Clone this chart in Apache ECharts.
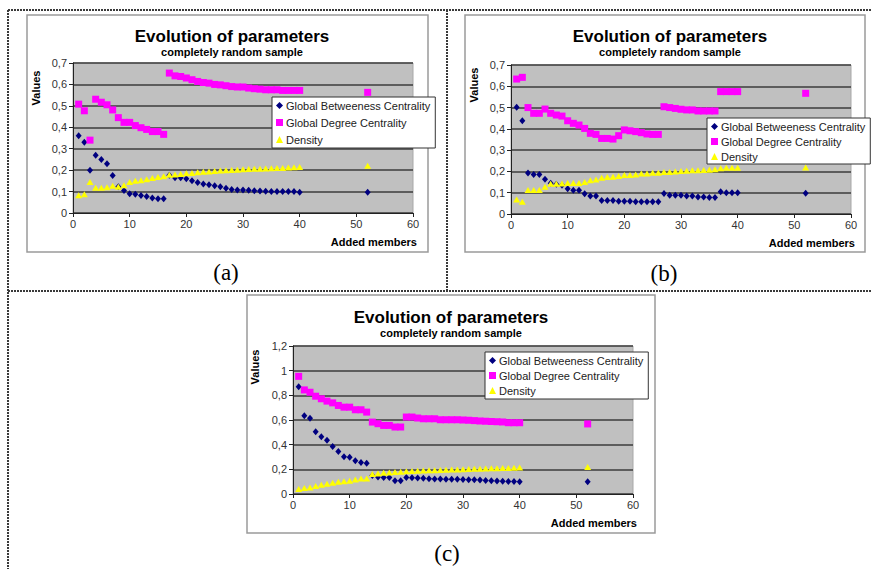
<!DOCTYPE html>
<html><head><meta charset="utf-8">
<script src="https://cdn.jsdelivr.net/npm/echarts@6/dist/echarts.min.js"></script>
<style>html,body{margin:0;padding:0;background:#fff}#c{width:874px;height:569px}</style>
</head><body><div id="c"></div>
<script>
// Added members (x values) shared by all three panels
const members = [1,2,3,4,5,6,7,8,9,10,11,12,13,14,15,16,17,18,19,20,21,22,23,24,25,26,27,28,29,30,31,32,33,34,35,36,37,38,39,40,52];
const seriesNames = ['Global Betweeness Centrality','Global Degree Centrality','Density'];
const titleText = 'Evolution of parameters';
const subtitleText = 'completely random sample';
const xTicks = {min:0, max:60, interval:10};
const yTicksAB = {min:0, max:0.7, interval:0.1};
const yTicksC = {min:0, max:1.2, interval:0.2};
const panelLabels = ['(a)','(b)','(c)'];

// Panel (a)
const betA = [0.36,0.33,0.20,0.27,0.25,0.23,0.175,0.122,0.105,0.09,0.087,0.082,0.077,0.07,0.066,0.066,
  0.176,0.165,0.165,0.16,0.15,0.142,0.135,0.132,0.127,0.122,0.115,0.11,0.107,0.107,0.106,0.104,0.103,0.102,0.1,0.1,0.1,0.1,0.1,0.097,0.097];
const degA = [0.508,0.477,0.34,0.531,0.517,0.505,0.481,0.445,0.423,0.423,0.408,0.398,0.39,0.38,0.38,0.367,
  0.653,0.64,0.637,0.63,0.622,0.614,0.609,0.606,0.6,0.598,0.594,0.59,0.588,0.588,0.583,0.58,0.578,0.575,0.575,0.575,0.572,0.572,0.572,0.572,0.563];
const denA = [0.083,0.087,0.145,0.118,0.118,0.12,0.127,0.123,0.13,0.145,0.15,0.153,0.158,0.163,0.168,0.172,
  0.178,0.18,0.182,0.185,0.187,0.19,0.192,0.194,0.196,0.198,0.2,0.201,0.202,0.204,0.205,0.206,0.207,0.208,0.209,0.21,0.21,0.212,0.213,0.215,0.22];

// Panel (b)
const betB = [0.501,0.438,0.193,0.185,0.185,0.163,0.145,0.14,0.135,0.119,0.112,0.112,0.095,0.084,0.084,0.063,0.063,0.063,0.06,0.06,0.06,0.058,0.058,0.058,0.058,0.058,
  0.096,0.088,0.088,0.088,0.084,0.084,0.08,0.08,0.077,0.077,0.105,0.1,0.1,0.1,0.097];
const degB = [0.634,0.642,0.5,0.473,0.473,0.493,0.473,0.465,0.46,0.438,0.426,0.418,0.402,0.379,0.374,0.355,0.355,0.352,0.368,0.395,0.391,0.387,0.382,0.376,0.374,0.374,
  0.504,0.5,0.496,0.492,0.489,0.489,0.484,0.484,0.484,0.484,0.575,0.575,0.575,0.575,0.567];
const denB = [0.068,0.058,0.113,0.113,0.113,0.128,0.142,0.142,0.143,0.146,0.146,0.146,0.15,0.159,0.162,0.17,0.174,0.175,0.178,0.183,0.183,0.186,0.19,0.19,0.194,0.194,
  0.197,0.197,0.2,0.202,0.203,0.205,0.206,0.207,0.208,0.21,0.215,0.217,0.217,0.217,0.218];

// Panel (c)
const betC = [0.87,0.635,0.615,0.505,0.465,0.435,0.385,0.345,0.302,0.298,0.27,0.255,0.25,
  0.15,0.138,0.134,0.133,0.108,0.108,
  0.133,0.132,0.13,0.128,0.124,0.122,0.122,0.12,0.12,0.12,0.118,0.116,0.115,0.113,0.11,0.108,0.105,0.103,0.102,0.102,0.1,0.1];
const degC = [0.954,0.844,0.825,0.793,0.772,0.753,0.739,0.718,0.704,0.704,0.683,0.683,0.664,
  0.583,0.57,0.556,0.556,0.543,0.543,
  0.624,0.624,0.616,0.61,0.61,0.61,0.602,0.602,0.602,0.602,0.6,0.598,0.595,0.592,0.59,0.588,0.586,0.584,0.578,0.578,0.578,0.568];
const denC = [0.04,0.048,0.052,0.065,0.074,0.083,0.092,0.1,0.104,0.107,0.117,0.125,0.126,
  0.162,0.167,0.172,0.175,0.178,0.18,
  0.185,0.186,0.188,0.19,0.192,0.193,0.195,0.196,0.198,0.199,0.2,0.202,0.204,0.205,0.207,0.208,0.209,0.21,0.211,0.212,0.215,0.218];

const FONT = 'Arial, "Liberation Sans", sans-serif';
const colors = ['#000080','#ff00ff','#ffff00'];
const symbols = ['diamond','rect','triangle'];
const symSizes = [[6,7],[7,7],[7,6]];

const zip = (vals) => members.map((m,i)=>[m, vals[i]]);
const fmt = v => { const r = Math.round(v*10)/10; return String(r).replace('.', ','); };

const panels = [
  {grid:{left:73, top:63, width:340, height:150}, y:yTicksAB, data:[betA,degA,denA],
   title:{x:227, y:23}, legend:{left:272, top:97, gap:4, pad:[2,5,2,4]}},
  {grid:{left:511, top:65, width:340, height:149}, y:yTicksAB, data:[betB,degB,denB],
   title:{x:665, y:23}, legend:{left:707, top:118, gap:2, pad:[2,5,1,4]}},
  {grid:{left:293, top:346, width:340, height:148}, y:yTicksC, data:[betC,degC,denC],
   title:{x:446, y:304}, legend:{left:485, top:352, gap:2, pad:[2,5,2,4]}}
];

const option = {
  animation:false,
  title: panels.map(p=>({
    text:titleText, subtext:subtitleText, left:p.title.x, top:p.title.y, textAlign:'center', itemGap:1,
    textStyle:{fontFamily:FONT, fontSize:17, fontWeight:'bold', color:'#000'},
    subtextStyle:{fontFamily:FONT, fontSize:11, fontWeight:'bold', color:'#000'}
  })),
  grid: panels.map(p=>Object.assign({show:true, backgroundColor:'#c0c0c0', borderColor:'#a8a8a8', borderWidth:1, containLabel:false, outerBoundsMode:'none'}, p.grid)),
  xAxis: panels.map((p,i)=>({
    type:'value', gridIndex:i, min:xTicks.min, max:xTicks.max, interval:xTicks.interval,
    axisLine:{show:true, onZero:false, lineStyle:{color:'#222', width:1}},
    axisTick:{show:true, length:4, inside:false, lineStyle:{color:'#222'}},
    axisLabel:{fontFamily:FONT, fontSize:11, color:'#333', margin:5},
    splitLine:{show:false}
  })),
  yAxis: panels.map((p,i)=>({
    type:'value', gridIndex:i, min:p.y.min, max:p.y.max, interval:p.y.interval,
    axisLine:{show:true, lineStyle:{color:'#222', width:1}},
    axisTick:{show:true, length:4, lineStyle:{color:'#222'}},
    axisLabel:{fontFamily:FONT, fontSize:11, color:'#333', margin:6, formatter:fmt},
    splitLine:{show:true, lineStyle:{color:'#3c3c3c', width:1.5}}
  })),
  legend: panels.map((p,i)=>({
    orient:'vertical', left:p.legend.left, top:p.legend.top, itemGap:p.legend.gap, padding:p.legend.pad,
    backgroundColor:'#fff', borderColor:'#333', borderWidth:1, borderRadius:0,
    itemWidth:7, itemHeight:7, selectedMode:false,
    textStyle:{fontFamily:FONT, fontSize:11, color:'#222', lineHeight:13, padding:[0,0,0,-2]},
    data: seriesNames.map((n,k)=>({name:n, icon:symbols[k]}))
  })),
  series: [],
  graphic: []
};

panels.forEach((p,i)=>{
  p.data.forEach((vals,k)=>{
    option.series.push({
      type:'scatter', name:seriesNames[k], xAxisIndex:i, yAxisIndex:i,
      symbol:symbols[k], symbolSize:symSizes[k],
      itemStyle:{color:colors[k], opacity:1},
      z: 2+k,
      data: zip(vals)
    });
  });
});

const G = option.graphic;
// dotted panel frames
const dot = {stroke:'#3a3a3a', lineWidth:2, lineDash:[2,1]};
[[8,10,872,10],[8,10,8,569],[447,10,447,291],[8,291,872,291]].forEach(s=>{
  G.push({type:'line', shape:{x1:s[0],y1:s[1],x2:s[2],y2:s[3]}, style:dot, z:-5, silent:true});
});
// chart boxes
[[27,15,401,237],[465,15,400,237],[247,295,408,238]].forEach(r=>{
  G.push({type:'rect', shape:{x:r[0],y:r[1],width:r[2],height:r[3]}, style:{fill:'#fff', stroke:'#9a9a9a', lineWidth:1.5}, z:-10, silent:true});
});
// axis titles
const yTitle = [[36,88],[474,85],[255,367]];
const xTitle = [[417,242],[855,243],[637,523]];
yTitle.forEach(t=>G.push({type:'text', x:t[0], y:t[1], rotation:Math.PI/2,
  style:{text:'Values', fontFamily:FONT, fontSize:11, fontWeight:'bold', fill:'#000', align:'center', verticalAlign:'middle'}}));
xTitle.forEach(t=>G.push({type:'text', x:t[0], y:t[1],
  style:{text:'Added members', fontFamily:FONT, fontSize:11, fontWeight:'bold', fill:'#000', align:'right', verticalAlign:'middle'}}));
// panel labels
[[226,272],[664,273],[447,553]].forEach((t,i)=>G.push({type:'text', x:t[0], y:t[1],
  style:{text:panelLabels[i], fontFamily:'"Liberation Serif", "Times New Roman", serif', fontSize:23, fill:'#000', align:'center', verticalAlign:'middle'}}));

const chart = echarts.init(document.getElementById('c'), null, {renderer:'svg'});
chart.setOption(option);
</script>
</body></html>
